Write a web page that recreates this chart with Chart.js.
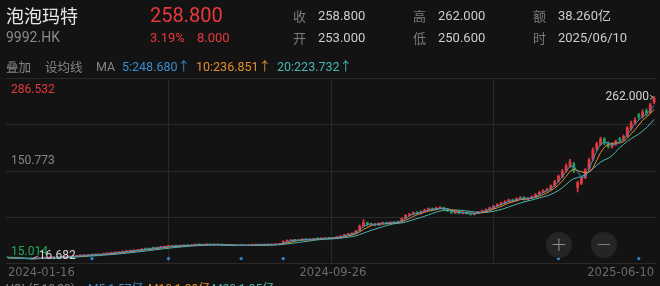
<!DOCTYPE html>
<html>
<head>
<meta charset="utf-8">
<script src="https://cdn.jsdelivr.net/npm/chart.js@4.4.1/dist/chart.umd.min.js"></script>
<style>
  html, body { margin: 0; padding: 0; background: #131313; }
  body { width: 660px; height: 286px; position: relative; overflow: hidden;
         font-family: Roboto, "Noto Sans CJK SC", sans-serif; }
  #kline { position: absolute; left: 0; top: 0; }
  .t { position: absolute; white-space: nowrap; line-height: 1; }
  .cn { font-family: "Noto Sans CJK SC", sans-serif; }
  .lab { color: #7b7b7b; font-size: 13px; }
  .val { color: #cdcdcd; font-size: 13px; }
  .btn { position: absolute; width: 26px; height: 26px; border-radius: 13px;
         background: #252525; color: #8c8c8c; font-size: 20px; line-height: 24px;
         text-align: center; font-family: "DejaVu Sans", sans-serif; font-weight: 200; }
</style>
</head>
<body>
<canvas id="kline" width="660" height="286"></canvas>

<div class="t cn" style="left:6px;top:6px;font-size:18px;color:#e6e6e6;">泡泡玛特</div>
<div class="t" style="left:6px;top:30px;font-size:14px;color:#8a8a8a;">9992.HK</div>
<div class="t" style="left:150px;top:5px;font-size:20px;color:#e8383d;">258.800</div>
<div class="t" style="left:150px;top:31px;font-size:13px;color:#e8383d;">3.19%</div>
<div class="t" style="left:197px;top:31px;font-size:13px;color:#e8383d;">8.000</div>

<div class="t cn lab" style="left:293px;top:9px;">收</div>
<div class="t val" style="left:318px;top:9px;">258.800</div>
<div class="t cn lab" style="left:293px;top:31px;">开</div>
<div class="t val" style="left:318px;top:31px;">253.000</div>
<div class="t cn lab" style="left:413px;top:9px;">高</div>
<div class="t val" style="left:438px;top:9px;">262.000</div>
<div class="t cn lab" style="left:413px;top:31px;">低</div>
<div class="t val" style="left:438px;top:31px;">250.600</div>
<div class="t cn lab" style="left:533px;top:9px;">额</div>
<div class="t val" style="left:558px;top:9px;">38.260亿</div>
<div class="t cn lab" style="left:533px;top:31px;">时</div>
<div class="t val" style="left:558px;top:31px;">2025/06/10</div>

<div class="t cn" style="left:6px;top:61px;font-size:12.5px;color:#858585;">叠加</div>
<div class="t cn" style="left:45px;top:61px;font-size:12.5px;color:#858585;">设均线</div>
<div class="t" style="left:96px;top:61px;font-size:12.5px;color:#858585;">MA</div>
<div class="t" style="left:122px;top:61px;font-size:12.5px;color:#3b8dd0;">5:248.680↑</div>
<div class="t" style="left:196px;top:61px;font-size:12.5px;color:#e38e2c;">10:236.851↑</div>
<div class="t" style="left:277px;top:61px;font-size:12.5px;color:#4bb7b3;">20:223.732↑</div>

<div class="btn" style="left:546px;top:232px;">+</div>
<div class="btn" style="left:591px;top:232px;">−</div>

<div class="t" style="left:6px;top:283px;font-size:12px;color:#858585;">VOL(5,10,20)</div>
<div class="t" style="left:88px;top:283px;font-size:12px;color:#3b8dd0;">M5:1.57亿</div>
<div class="t" style="left:148px;top:283px;font-size:12px;color:#e38e2c;">M10:1.38亿</div>
<div class="t" style="left:212px;top:283px;font-size:12px;color:#4bb7b3;">M20:1.35亿</div>

<script>
// one candle = about two trading days, 2024-01-16 .. 2025-06-10
const opens = [
  18.9, 18.7, 18.4, 18.1, 17.7, 17.4, 17.2, 17.0, 17.4, 18.1,
  18.3, 18.8, 18.9, 19.5, 19.2, 19.9, 20.2, 20.7, 20.8, 21.6,
  22.1, 22.3, 22.8, 23.5, 23.0, 24.0, 24.5, 25.3, 26.0, 26.2,
  27.2, 27.9, 28.8, 29.1, 30.0, 30.6, 32.2, 31.7, 33.6, 33.3,
  34.2, 34.9, 35.7, 35.9, 36.8, 36.1, 36.8, 37.6, 37.0, 37.9,
  38.5, 37.9, 38.3, 38.8, 38.1, 38.6, 38.0, 37.7, 37.1, 37.6,
  36.8, 37.0, 37.5, 36.9, 37.7, 37.8, 38.2, 37.7, 38.6, 38.1,
  38.6, 38.8, 40.6, 43.8, 44.3, 45.3, 44.7, 45.8, 46.4, 45.8,
  46.5, 47.5, 47.1, 47.7, 48.6, 48.0, 49.1, 49.6, 51.8, 53.4,
  54.3, 55.8, 59.6, 66.0, 71.5, 68.0, 69.9, 67.6, 70.5, 71.8,
  70.4, 72.3, 71.0, 73.5, 78.2, 82.9, 84.5, 87.2, 85.4, 88.9,
  90.5, 92.9, 91.2, 93.4, 94.6, 92.3, 89.4, 86.0, 87.8, 85.5,
  87.2, 85.5, 83.7, 85.8, 88.1, 89.0, 91.5, 93.5, 96.7, 98.6,
  101.0, 103.2, 106.1, 104.5, 107.6, 109.8, 106.5, 108.7, 110.2, 114.3,
  117.6, 120.3, 121.8, 127.4, 134.0, 140.6, 149.8, 156.2, 160.0, 125.0,
  130.8, 139.5, 152.0, 167.5, 182.4, 189.6, 198.3, 192.0, 186.0, 190.2,
  198.0, 197.0, 202.3, 213.2, 222.4, 234.0, 231.0, 240.2, 237.5, 253.0
];
const closes = [
  18.6, 18.3, 18.0, 17.6, 17.3, 17.1, 17.0, 17.5, 18.0, 18.4,
  18.7, 19.0, 19.4, 19.3, 19.8, 20.3, 20.6, 20.9, 21.5, 22.0,
  22.4, 22.9, 23.3, 23.1, 23.9, 24.6, 25.2, 25.8, 26.3, 27.1,
  27.8, 28.6, 29.2, 29.9, 30.4, 31.2, 31.9, 32.6, 33.4, 34.1,
  34.8, 35.5, 36.0, 36.6, 36.2, 36.9, 37.4, 37.1, 37.8, 38.3,
  38.0, 38.4, 38.7, 38.2, 38.5, 38.1, 37.6, 37.2, 37.5, 36.9,
  37.1, 37.4, 37.0, 37.6, 37.9, 38.1, 37.8, 38.4, 38.2, 38.7,
  38.9, 39.2, 43.5, 44.6, 45.1, 44.8, 45.6, 46.2, 45.9, 46.7,
  47.3, 47.0, 47.8, 48.4, 48.1, 49.0, 49.8, 51.5, 53.2, 54.6,
  55.4, 58.8, 66.5, 71.8, 68.2, 69.5, 67.9, 70.2, 71.4, 70.6,
  72.0, 71.3, 73.2, 77.8, 82.6, 84.1, 86.9, 85.7, 88.4, 90.8,
  92.6, 91.4, 93.7, 94.2, 92.0, 89.1, 86.3, 87.5, 85.8, 86.9,
  85.2, 84.0, 85.6, 87.9, 89.3, 91.2, 93.8, 96.4, 98.9, 101.2,
  103.5, 105.8, 104.2, 107.9, 109.6, 106.8, 108.3, 110.5, 113.9, 117.2,
  119.8, 121.4, 126.9, 133.5, 141.2, 149.0, 156.8, 163.5, 150.2, 131.4,
  138.6, 151.0, 166.2, 181.5, 190.3, 197.4, 191.2, 186.5, 189.8, 193.6,
  196.1, 201.4, 214.0, 221.5, 226.0, 230.5, 238.4, 236.2, 249.0, 258.8
];
const highs = [
  19.1, 18.9, 18.6, 18.2, 17.9, 17.6, 17.4, 17.7, 18.2, 18.6,
  18.9, 19.3, 19.6, 19.7, 20.0, 20.6, 20.8, 21.2, 21.7, 22.3,
  22.7, 23.2, 23.6, 23.8, 24.2, 24.9, 25.5, 26.1, 26.7, 27.4,
  28.2, 28.9, 29.6, 30.3, 30.8, 31.6, 32.6, 32.9, 34.0, 34.5,
  35.2, 35.9, 36.5, 37.0, 37.1, 37.3, 37.8, 37.9, 38.2, 38.7,
  38.9, 38.7, 39.1, 39.0, 38.8, 38.9, 38.3, 38.0, 37.8, 37.9,
  37.4, 37.7, 37.8, 37.9, 38.3, 38.5, 38.6, 38.7, 38.9, 39.0,
  39.3, 39.6, 44.2, 45.3, 45.8, 45.9, 46.1, 46.8, 46.9, 47.2,
  47.8, 47.9, 48.3, 48.9, 49.0, 49.5, 50.4, 52.1, 54.0, 55.5,
  56.4, 59.9, 68.3, 76.0, 72.6, 70.8, 70.6, 71.3, 72.6, 72.5,
  73.1, 73.0, 74.0, 78.9, 83.9, 85.6, 88.0, 88.1, 89.5, 92.0,
  93.9, 93.8, 94.9, 95.6, 95.1, 92.9, 90.0, 88.6, 88.3, 87.8,
  87.9, 86.2, 86.5, 88.7, 90.4, 92.3, 94.9, 97.6, 100.2, 102.6,
  104.9, 107.2, 107.0, 109.1, 111.0, 110.7, 109.6, 111.9, 115.3, 118.9,
  121.5, 123.6, 128.7, 135.6, 143.8, 152.1, 160.3, 166.9, 162.4, 134.2,
  141.0, 153.2, 168.9, 184.2, 193.1, 200.5, 199.8, 193.4, 191.9, 196.0,
  200.3, 203.8, 216.8, 224.6, 229.8, 236.2, 241.5, 243.0, 251.8, 262.0
];
const lows = [
  18.4, 18.1, 17.8, 17.4, 17.1, 16.9, 16.682, 16.9, 17.3, 17.9,
  18.1, 18.6, 18.8, 19.0, 19.1, 19.7, 20.0, 20.5, 20.7, 21.4,
  21.9, 22.1, 22.6, 22.8, 22.9, 23.8, 24.3, 25.0, 25.7, 26.0,
  26.9, 27.6, 28.5, 28.9, 29.7, 30.3, 31.5, 31.4, 33.0, 33.0,
  33.9, 34.6, 35.3, 35.6, 35.8, 35.8, 36.5, 36.8, 36.8, 37.6,
  37.7, 37.6, 38.0, 37.9, 37.8, 37.8, 37.3, 36.9, 36.8, 36.5,
  36.4, 36.7, 36.7, 36.7, 37.4, 37.5, 37.5, 37.5, 37.9, 37.9,
  38.3, 38.5, 40.3, 43.2, 43.9, 44.3, 44.4, 45.4, 45.5, 45.5,
  46.2, 46.6, 46.8, 47.4, 47.7, 47.8, 48.8, 49.3, 51.2, 52.9,
  53.8, 55.2, 59.0, 65.2, 66.4, 66.9, 66.5, 67.0, 69.6, 69.7,
  69.8, 70.5, 70.6, 73.0, 77.6, 81.8, 83.7, 84.9, 84.8, 88.0,
  89.7, 90.5, 90.6, 92.5, 91.2, 88.2, 85.4, 85.2, 84.6, 84.8,
  84.3, 83.0, 83.1, 85.1, 87.3, 88.4, 90.8, 92.9, 95.9, 97.8,
  100.1, 102.4, 103.1, 103.6, 106.8, 105.5, 105.4, 107.8, 109.5, 113.2,
  116.4, 118.9, 120.9, 126.2, 132.5, 139.2, 147.5, 154.4, 146.8, 118.0,
  128.9, 137.8, 150.5, 165.3, 179.8, 187.5, 188.6, 183.7, 183.9, 188.1,
  193.5, 195.2, 200.9, 211.0, 219.6, 227.4, 229.3, 232.8, 236.0, 250.6
];

const dateTicks = ['2024-01-16', '2024-09-26', '2025-06-10'];
const dateTickIdx = [0, 85, 169];

const priceLabels = ['286.532', '150.773', '15.014'];
const priceLabelValues = [286.532, 150.773, 15.014];

const eventIdx = [22, 42, 61, 72, 144, 165];
const eventLevel = 17.4;

const maDays = [5, 10, 20];
const daysPerCandle = 2;

const upColor = '#e23a3c';
const downColor = '#1f9f57';
const maColors = ['#3b8dd0', '#e38e2c', '#4bb7b3'];
const gridColor = '#292929';

function movingAverage(values, n) {
  return values.map((_, i) => {
    const win = values.slice(Math.max(0, i - n + 1), i + 1);
    return win.reduce((a, b) => a + b, 0) / win.length;
  });
}

const labels = closes.map((_, i) => i);
const candleColors = closes.map((c, i) => c >= opens[i] ? upColor : downColor);
const quarters = [0, 1, 2, 3, 4];

const markerPlugin = {
  id: 'markers',
  beforeDatasetsDraw(chart) {
    // horizontal quarter lines of the price pane
    const { ctx, chartArea } = chart;
    const h = chartArea.bottom - chartArea.top;
    ctx.save();
    ctx.strokeStyle = gridColor;
    ctx.lineWidth = 1;
    quarters.forEach(k => {
      const py = Math.round(chartArea.top + h * k / 4) + 0.5;
      ctx.beginPath();
      ctx.moveTo(chartArea.left, py);
      ctx.lineTo(chartArea.right, py);
      ctx.stroke();
    });
    ctx.restore();
  },
  afterDatasetsDraw(chart) {
    const { ctx, chartArea, scales } = chart;
    const x = scales.x, y = scales.y;
    const priceColors = ['#e5383b', '#858585', '#22a85a'];
    const shift = [10, -9, -8];
    ctx.save();
    ctx.font = '12px Roboto';
    ctx.textBaseline = 'middle';
    ctx.textAlign = 'left';
    priceLabels.forEach((lab, i) => {
      ctx.fillStyle = priceColors[i];
      ctx.fillText(lab, chartArea.left + 5, y.getPixelForValue(priceLabelValues[i]) + shift[i]);
    });

    // highest and lowest marks
    const hiVal = Math.max(...highs), loVal = Math.min(...lows);
    const hi = highs.indexOf(hiVal), lo = lows.indexOf(loVal);
    ctx.fillStyle = '#d4d4d4';
    ctx.strokeStyle = '#bdbdbd';
    ctx.lineWidth = 1;

    const hx = x.getPixelForValue(hi), hy = y.getPixelForValue(hiVal);
    ctx.textAlign = 'right';
    ctx.fillText(hiVal.toFixed(3), hx - 5, hy + 1);
    ctx.beginPath();
    ctx.moveTo(hx - 4, hy - 1);
    ctx.lineTo(hx - 1, hy + 1);
    ctx.lineTo(hx - 4, hy + 3);
    ctx.stroke();

    const lx = x.getPixelForValue(lo), ly = y.getPixelForValue(loVal);
    ctx.textAlign = 'left';
    ctx.beginPath();
    ctx.moveTo(lx + 1, ly);
    ctx.lineTo(lx + 7, ly - 3);
    ctx.stroke();
    ctx.fillText(loVal.toFixed(3), lx + 8, ly - 3);
    ctx.restore();
  }
};

const maSets = maDays.map((d, k) => ({
  type: 'line',
  data: movingAverage(closes, Math.round(d / daysPerCandle)),
  borderColor: maColors[k],
  borderWidth: 1,
  pointRadius: 0,
  tension: 0,
  order: 0
}));

function setQuarterTicks(scale) {
  scale.ticks = quarters.map(v => ({ value: v }));
}
function vGridColor(c) {
  if (!c.tick) return gridColor;
  return (c.tick.value === 0 || c.tick.value === 4) ? 'rgba(0,0,0,0)' : gridColor;
}

new Chart(document.getElementById('kline'), {
  type: 'bar',
  data: {
    labels,
    datasets: [
      ...maSets,
      {
        type: 'line',
        data: eventIdx.map(i => ({ x: i, y: eventLevel })),
        showLine: false,
        pointRadius: 1.6,
        pointBorderWidth: 0,
        pointBackgroundColor: '#2e8ad6',
        order: 0
      },
      {
        data: opens.map((o, i) => [o, closes[i]]),
        backgroundColor: candleColors,
        barThickness: 2.2,
        minBarLength: 1,
        grouped: false,
        order: 1
      },
      {
        data: lows.map((l, i) => [l, highs[i]]),
        backgroundColor: candleColors,
        barThickness: 1,
        grouped: false,
        order: 2
      }
    ]
  },
  options: {
    responsive: false,
    animation: false,
    devicePixelRatio: 1,
    events: [],
    layout: { padding: { left: 6, right: 0, top: 78, bottom: 3 } },
    plugins: { legend: { display: false }, tooltip: { enabled: false } },
    scales: {
      x: {
        type: 'category',
        offset: true,
        grid: { display: false, drawTicks: false },
        border: { display: false },
        ticks: {
          autoSkip: false,
          maxRotation: 0,
          align: 'inner',
          padding: 3,
          color: '#6a6a6a',
          font: { family: 'DejaVu Sans', size: 11.5 },
          callback(v, i) {
            const k = dateTickIdx.indexOf(i);
            return k < 0 ? '' : dateTicks[k];
          }
        }
      },
      y: {
        min: 10.44, max: 289.58,
        ticks: { display: false },
        grid: { display: false, drawTicks: false },
        border: { display: false }
      },
      gx: {
        type: 'linear', position: 'top', min: 0, max: 4,
        offset: false,
        afterBuildTicks: setQuarterTicks,
        ticks: { display: false },
        grid: { offset: false, drawTicks: false, color: vGridColor },
        border: { display: false }
      }
    }
  },
  plugins: [markerPlugin]
});
</script>
</body>
</html>
